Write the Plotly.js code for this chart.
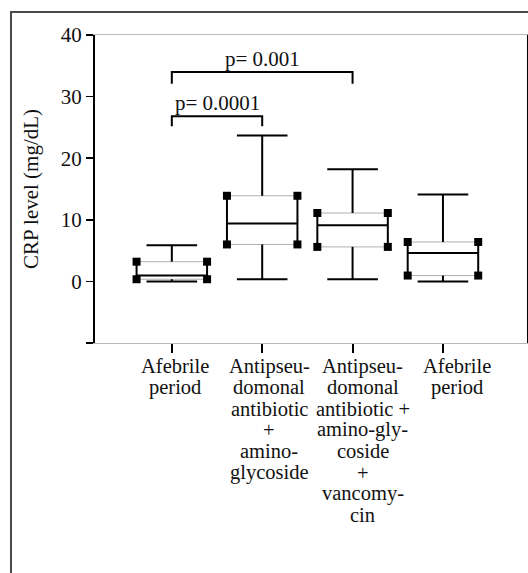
<!DOCTYPE html>
<html>
<head>
<meta charset="utf-8">
<script src="https://cdn.plot.ly/plotly-3.0.1.min.js"></script>
<style>
  html, body { margin: 0; padding: 0; background: #fff; overflow: hidden; }
  #wrap { position: relative; width: 528px; height: 573px; overflow: hidden; }
  #chart { width: 528px; height: 573px; }
  #frame { position: absolute; left: 10px; top: 11px; width: 700px; height: 700px;
           border-left: 2px solid #4a4a4a; border-top: 2px solid #4a4a4a; pointer-events: none; }
</style>
</head>
<body>
<div id="wrap">
  <div id="chart"></div>
  <div id="frame"></div>
</div>
<script>
// ---- data ----
const categories = [
  'Afebrile<br>period',
  'Antipseu-<br>domonal<br>antibiotic<br>+<br>amino-<br>glycoside',
  'Antipseu-<br>domonal<br>antibiotic +<br>amino-gly-<br>coside<br>+<br>vancomy-<br>cin',
  'Afebrile<br>period'
];
const lowerWhisker = [0.0, 0.35, 0.35, 0.0];
const q1Values     = [0.35, 6.0, 5.6, 0.95];
const medianValues = [0.95, 9.4, 9.1, 4.6];
const q3Values     = [3.2, 13.9, 11.1, 6.4];
const upperWhisker = [5.85, 23.7, 18.2, 14.1];

const bracketFrom   = [0, 0];
const bracketTo     = [1, 2];
const bracketHeight = [26.8, 34.0];
const bracketDrop   = [1.6, 1.9];
const bracketLabels = ['p= 0.0001', 'p= 0.001'];

const yTickVals = [-10, 0, 10, 20, 30, 40];
const yTickText = ['', '0', '10', '20', '30', '40'];

// ---- build traces ----
const FONT = '"Liberation Serif", "Times New Roman", Times, serif';
const halfBox = 0.39, halfCap = 0.28;
const grayX = [], grayY = [], blackX = [], blackY = [], mkX = [], mkY = [];
categories.forEach((c, i) => {
  const l = i - halfBox, r = i + halfBox;
  grayX.push(l, r, null, l, r, null);
  grayY.push(q3Values[i], q3Values[i], null, q1Values[i], q1Values[i], null);
  blackX.push(l, l, null, r, r, null);
  blackY.push(q1Values[i], q3Values[i], null, q1Values[i], q3Values[i], null);
  blackX.push(l, r, null);
  blackY.push(medianValues[i], medianValues[i], null);
  blackX.push(i, i, null, i - halfCap, i + halfCap, null);
  blackY.push(q3Values[i], upperWhisker[i], null, upperWhisker[i], upperWhisker[i], null);
  blackX.push(i, i, null, i - halfCap, i + halfCap, null);
  blackY.push(q1Values[i], lowerWhisker[i], null, lowerWhisker[i], lowerWhisker[i], null);
  mkX.push(l, r, l, r);
  mkY.push(q3Values[i], q3Values[i], q1Values[i], q1Values[i]);
});

const brX = [], brY = [];
bracketFrom.forEach((a, k) => {
  const b = bracketTo[k], h = bracketHeight[k], d = bracketDrop[k];
  brX.push(a, a, b, b, null);
  brY.push(h - d, h, h, h - d, null);
});

const traces = [
  {type: 'scatter', mode: 'lines', x: grayX, y: grayY, line: {color: '#b0b0b0', width: 1}, hoverinfo: 'skip'},
  {type: 'scatter', mode: 'lines', x: blackX, y: blackY, line: {color: '#000', width: 2}, hoverinfo: 'skip'},
  {type: 'scatter', mode: 'markers', x: mkX, y: mkY, marker: {symbol: 'square', size: 8, color: '#000'}, hoverinfo: 'skip'},
  {type: 'scatter', mode: 'lines', x: brX, y: brY, line: {color: '#000', width: 2}, hoverinfo: 'skip'}
];

// ---- annotations ----
const annotations = [];
bracketFrom.forEach((a, k) => {
  annotations.push({
    x: (a + bracketTo[k]) / 2, y: bracketHeight[k], xref: 'x', yref: 'y',
    text: bracketLabels[k], showarrow: false, yanchor: 'bottom', yshift: -1,
    font: {family: FONT, size: 21, color: '#111'}
  });
});
const LINE_GAP = 21.3;
const labelShift = [3, 7, 10, 14];
categories.forEach((c, i) => {
  c.split('<br>').forEach((line, j) => {
    annotations.push({
      x: i, y: 0, xref: 'x', yref: 'paper', text: line, showarrow: false,
      xanchor: 'center', yanchor: 'middle', yshift: -(23 + j * LINE_GAP), xshift: labelShift[i],
      font: {family: FONT, size: 20.5, color: '#111'}
    });
  });
});

const layout = {
  width: 528, height: 573,
  margin: {l: 95, r: 1, t: 35, b: 230, pad: 0},
  paper_bgcolor: '#fff', plot_bgcolor: '#fff',
  showlegend: false,
  font: {family: FONT, size: 21, color: '#111'},
  xaxis: {
    range: [-0.85, 3.93], showgrid: false, zeroline: false,
    showline: true, linecolor: '#b8b8b8', linewidth: 1, mirror: true,
    ticks: 'outside', ticklen: 9, tickwidth: 2, tickcolor: '#000',
    tickvals: [0, 1, 2, 3], showticklabels: false, automargin: false, fixedrange: true
  },
  yaxis: {
    range: [-10, 40], showgrid: false, zeroline: false,
    showline: true, linecolor: '#000', linewidth: 2, mirror: true,
    ticks: 'outside', ticklen: 7, tickwidth: 1.5, tickcolor: '#000',
    tickvals: yTickVals, ticktext: yTickText,
    tickfont: {family: FONT, size: 21, color: '#111'},
    title: {text: 'CRP level (mg/dL)', font: {family: FONT, size: 21, color: '#111'}, standoff: 16},
    automargin: false, fixedrange: true
  },
  annotations: annotations
};

Plotly.newPlot('chart', traces, layout, {displayModeBar: false, staticPlot: true});
</script>
</body>
</html>
